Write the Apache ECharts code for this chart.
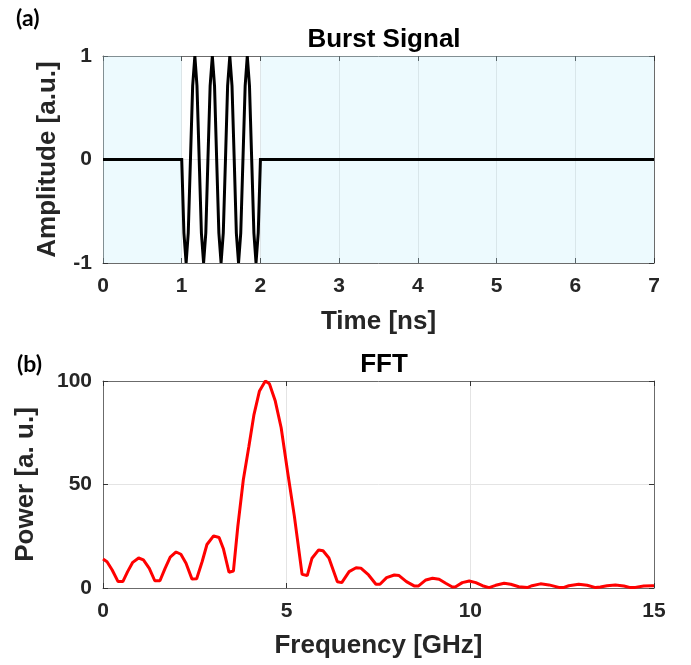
<!DOCTYPE html>
<html>
<head>
<meta charset="utf-8">
<script src="https://cdn.jsdelivr.net/npm/echarts@6/dist/echarts.min.js"></script>
<style>html,body{margin:0;padding:0;background:#fff}#c{width:691px;height:665px}</style>
</head>
<body>
<div id="c"></div>
<script>
// ---- Burst signal (a) ----
const burstTime = [0, 1.000, 1.028, 1.056, 1.083, 1.111, 1.139, 1.167, 1.194, 1.222, 1.250, 1.278, 1.306, 1.333,
  1.361, 1.389, 1.417, 1.444, 1.472, 1.500, 1.528, 1.556, 1.583, 1.611, 1.639, 1.667, 1.694, 1.722,
  1.750, 1.778, 1.806, 1.833, 1.861, 1.889, 1.917, 1.944, 1.972, 2.000, 7];
const burstAmp = [0, 0, -0.71, -1, -0.71, 0, 0.71, 1, 0.71, 0, -0.71, -1, -0.71, 0,
  0.71, 1, 0.71, 0, -0.71, -1, -0.71, 0, 0.71, 1, 0.71, 0, -0.71, -1,
  -0.71, 0, 0.71, 1, 0.71, 0, -0.71, -1, -0.71, 0, 0];
const timeTicks = [0, 1, 2, 3, 4, 5, 6, 7];
const ampTicks = [-1, 0, 1];
const shadedRanges = [[0, 1], [2, 7]];

// ---- FFT (b) ----
const fftFreq = [0.00, 0.11, 0.25, 0.41, 0.54, 0.67, 0.81, 0.97, 1.10, 1.26, 1.41, 1.55, 1.69, 1.83, 1.99,
  2.12, 2.26, 2.42, 2.55, 2.70, 2.83, 3.01, 3.16, 3.28, 3.43, 3.55, 3.67, 3.82, 3.97, 4.11, 4.26,
  4.42, 4.53, 4.69, 4.85, 5.03, 5.21, 5.42, 5.56, 5.69, 5.87, 5.99, 6.15, 6.38, 6.50, 6.70, 6.89,
  7.02, 7.23, 7.43, 7.54, 7.72, 7.93, 8.06, 8.26, 8.47, 8.59, 8.79, 8.97, 9.15, 9.33, 9.51, 9.60,
  9.78, 9.97, 10.15, 10.33, 10.51, 10.69, 10.92, 11.10, 11.32, 11.55, 11.68, 11.91, 12.14, 12.41,
  12.55, 12.68, 12.95, 13.18, 13.41, 13.54, 13.72, 13.95, 14.18, 14.36, 14.49, 14.72, 14.95, 15.00];
const fftPower = [14.0, 12.7, 8.7, 3.1, 3.1, 7.9, 12.4, 14.5, 13.6, 9.5, 3.5, 3.5, 9.5, 14.9, 17.4,
  16.3, 12.0, 4.4, 4.5, 12.8, 21.0, 25.2, 24.4, 18.8, 7.6, 8.2, 29.7, 52.3, 68.2, 83.8, 95.2,
  100, 98.7, 90.3, 77.4, 55.6, 34.6, 6.6, 6.0, 14.4, 18.4, 18.0, 14.5, 3.0, 2.6, 7.9, 9.8,
  9.6, 6.3, 1.8, 1.8, 5.0, 6.3, 6.0, 3.1, 1.0, 1.0, 3.9, 4.7, 4.2, 2.3, 0.5, 0.6,
  2.6, 3.4, 2.6, 1.1, 0.2, 1.3, 2.3, 1.8, 0.6, 0.2, 1.1, 2.0, 1.5, 0.3,
  0.3, 1.1, 1.8, 1.3, 0.2, 0.5, 1.1, 1.5, 1.0, 0.2, 0.3, 1.0, 1.1, 1.1];
const freqTicks = [0, 5, 10, 15];
const powerTicks = [0, 50, 100];

const FONT = '"Liberation Sans", Arial, sans-serif';
const TXT = '#262626';
const AX = '#6b6b6b';

function pairs(xs, ys) { return xs.map((x, i) => [x, ys[i]]); }

function mainX(gi, min, max, interval, name, gap) {
  return {
    type: 'value', gridIndex: gi, min, max, interval, position: 'bottom',
    name, nameLocation: 'middle', nameGap: gap,
    nameTextStyle: { fontFamily: FONT, fontWeight: 'bold', fontSize: 26, color: TXT },
    axisLine: { show: true, onZero: false, lineStyle: { color: AX, width: 1 } },
    axisTick: { show: true, inside: true, length: 5, lineStyle: { color: '#333' } },
    axisLabel: { fontFamily: FONT, fontWeight: 'bold', fontSize: 21, color: TXT, margin: 13 },
    splitLine: { show: true, lineStyle: { color: '#e4e4e4', width: 1 } }
  };
}
function sideX(gi, min, max, interval) {
  return {
    type: 'value', gridIndex: gi, min, max, interval, position: 'top',
    axisLine: { show: true, onZero: false, lineStyle: { color: AX, width: 1 } },
    axisTick: { show: true, inside: true, length: 5, lineStyle: { color: '#333' } },
    axisLabel: { show: false }, splitLine: { show: false }
  };
}
function mainY(gi, min, max, interval, name, gap) {
  return {
    type: 'value', gridIndex: gi, min, max, interval, position: 'left',
    name, nameLocation: 'middle', nameGap: gap,
    nameTextStyle: { fontFamily: FONT, fontWeight: 'bold', fontSize: 26, color: TXT },
    axisLine: { show: true, onZero: false, lineStyle: { color: AX, width: 1 } },
    axisTick: { show: true, inside: true, length: 5, lineStyle: { color: '#333' } },
    axisLabel: { fontFamily: FONT, fontWeight: 'bold', fontSize: 21, color: TXT, margin: 11 },
    splitLine: { show: true, lineStyle: { color: '#e4e4e4', width: 1 } }
  };
}
function sideY(gi, min, max, interval) {
  return {
    type: 'value', gridIndex: gi, min, max, interval, position: 'right',
    axisLine: { show: true, onZero: false, lineStyle: { color: AX, width: 1 } },
    axisTick: { show: true, inside: true, length: 5, lineStyle: { color: '#333' } },
    axisLabel: { show: false }, splitLine: { show: false }
  };
}

const chart = echarts.init(document.getElementById('c'), null, { renderer: 'canvas' });
chart.setOption({
  animation: false,
  backgroundColor: '#ffffff',
  title: [
    { text: 'Burst Signal', left: 379, top: 22, textAlign: 'center',
      textStyle: { fontFamily: FONT, fontWeight: 'bold', fontSize: 26, color: '#000' } },
    { text: 'FFT', left: 379, top: 347, textAlign: 'center',
      textStyle: { fontFamily: FONT, fontWeight: 'bold', fontSize: 26, color: '#000' } },
    { text: '(a)', left: 11, top: 2,
      textStyle: { fontFamily: 'Lato, "Open Sans", sans-serif', fontWeight: 'bold', fontSize: 23, color: '#000' } },
    { text: '(b)', left: 12, top: 348,
      textStyle: { fontFamily: 'Lato, "Open Sans", sans-serif', fontWeight: 'bold', fontSize: 23, color: '#000' } }
  ],
  grid: [
    { left: 103, right: 37, top: 56, height: 207 },
    { left: 103, right: 37, top: 381, height: 207 }
  ],
  xAxis: [
    mainX(0, timeTicks[0], timeTicks[timeTicks.length - 1], 1, 'Time [ns]', 46),
    sideX(0, timeTicks[0], timeTicks[timeTicks.length - 1], 1),
    mainX(1, freqTicks[0], freqTicks[freqTicks.length - 1], 5, 'Frequency [GHz]', 45),
    sideX(1, freqTicks[0], freqTicks[freqTicks.length - 1], 5)
  ],
  yAxis: [
    mainY(0, ampTicks[0], ampTicks[ampTicks.length - 1], 1, 'Amplitude [a.u.]', 42),
    sideY(0, ampTicks[0], ampTicks[ampTicks.length - 1], 1),
    mainY(1, powerTicks[0], powerTicks[powerTicks.length - 1], 50, 'Power [a. u.]', 64),
    sideY(1, powerTicks[0], powerTicks[powerTicks.length - 1], 50)
  ],
  series: [
    {
      type: 'line', xAxisIndex: 0, yAxisIndex: 0,
      data: pairs(burstTime, burstAmp),
      showSymbol: false, smooth: false,
      lineStyle: { color: '#000', width: 3, join: 'miter' },
      markArea: {
        silent: true,
        itemStyle: { color: 'rgba(190,236,250,0.28)' },
        data: shadedRanges.map(r => [{ xAxis: r[0] }, { xAxis: r[1] }])
      },
      z: 3
    },
    {
      type: 'line', xAxisIndex: 2, yAxisIndex: 2,
      data: pairs(fftFreq, fftPower),
      showSymbol: false, smooth: false,
      lineStyle: { color: '#ff0000', width: 3 },
      z: 3
    }
  ]
});
</script>
</body>
</html>
